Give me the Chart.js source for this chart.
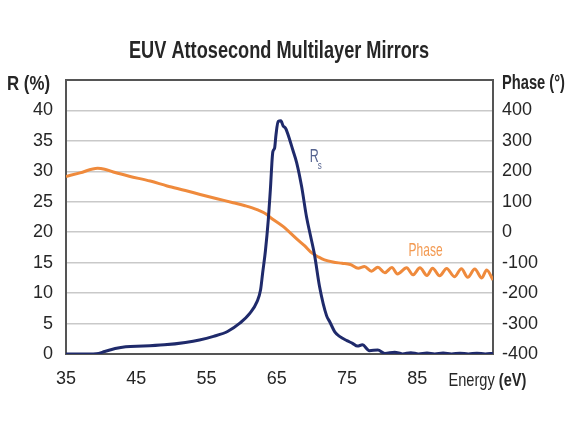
<!DOCTYPE html>
<html lang="en">
<head>
  <meta charset="UTF-8">
  <title>EUV Attosecond Multilayer Mirrors</title>
  <script src="https://cdn.jsdelivr.net/npm/chart.js"></script>
  <style>
    html, body { margin: 0; padding: 0; background: #fff; }
    canvas { display: block; }
  </style>
</head>
<body>
  <canvas id="mirror-chart" width="570" height="443"></canvas>

  <script>
    // Reflectance Rs (%)
    const energyR = [35, 37, 39.3, 40.5, 42, 43.5, 46, 49, 52, 54, 56, 58, 59.8, 61.2, 62.2, 62.7, 63.0, 63.4, 63.8, 64.1, 64.45, 64.7, 64.9, 65.2, 65.6, 65.9, 66.3, 66.85, 67.3, 67.85, 68.55, 69.25, 69.8, 70.4, 71.1, 72.1, 72.55, 73.3, 74, 75, 75.8, 76.5, 77.2, 78.2, 79.4, 80.4, 81.8, 82.9, 84.1, 85.2, 86.4, 87.5, 88.7, 89.9, 91.1, 92.3, 93.5, 94.7, 95.8];
    const reflectance = [0, 0, 0.05, 0.4, 0.9, 1.2, 1.3, 1.5, 1.9, 2.3, 2.9, 3.7, 5.1, 6.7, 8.6, 10.5, 13.3, 17, 22, 27, 33.2, 33.8, 36, 38.2, 38.3, 37.5, 37.0, 35.2, 33.5, 31.4, 27.5, 22.5, 19.5, 16.2, 11.1, 6.3, 5.3, 3.6, 2.85, 2.2, 1.75, 1.3, 1.5, 0.55, 0.65, 0.1, 0.3, 0.02, 0.2, 0.02, 0.15, 0.02, 0.15, 0.02, 0.12, 0.02, 0.12, 0.02, 0.1];

    // Phase (degrees)
    const energyPhase = [35, 37, 39.5, 40.5, 42, 44, 47, 49.4, 52, 54.1, 56.5, 58.8, 60.5, 62.2, 63.6, 64, 65.9, 67.85, 69, 70, 71, 71.8, 73, 74.3, 75.5, 76.6, 77.5, 78.5, 79.4, 80.4, 81.4, 82.2, 83.5, 84.4, 85.4, 86.4, 87.2, 88.2, 89.2, 90.3, 91.3, 92.2, 93.2, 94.2, 94.9, 95.8];
    const phase = [183, 195, 210, 207, 196, 184, 168, 152, 137, 124, 110, 97, 87, 74, 58, 50, 19, -22, -45, -68, -82, -91, -98, -102, -106, -118, -113, -128, -115, -133, -116, -137, -117, -140, -117, -142, -118, -143, -119, -146, -120, -148, -121, -150, -124, -157];

    const energyTicks = [35, 45, 55, 65, 75, 85];
    const rTicks = [0, 5, 10, 15, 20, 25, 30, 35, 40];
    const phaseTicks = [-400, -300, -200, -100, 0, 100, 200, 300, 400];

    const FONT = "'Liberation Sans', Arial, sans-serif";
    const NAVY = '#1f2a6b';
    const ORANGE = '#ef8a3c';
    const TEXT = '#262626';

    // draws text squeezed to a given width (the original uses a condensed face)
    function squeezed(ctx, parts, x, y, width, align) {
      let total = 0;
      parts.forEach(p => { ctx.font = p.font; p.w = ctx.measureText(p.text).width; total += p.w; });
      const k = Math.min(1, width / total);
      let left = align === 'center' ? x - width / 2 : x;
      if (k === 1 && align === 'center') left = x - total / 2;
      ctx.save();
      ctx.translate(left, y);
      ctx.scale(k, 1);
      ctx.textAlign = 'left';
      let cx = 0;
      parts.forEach(p => { ctx.font = p.font; ctx.fillText(p.text, cx, 0); cx += p.w; });
      ctx.restore();
    }

    // frame, titles, axis captions and series labels
    const labelsPlugin = {
      id: 'labels',
      beforeDatasetsDraw(chart) {
        const { ctx, chartArea: a } = chart;
        ctx.save();
        ctx.strokeStyle = '#555';
        ctx.lineWidth = 2;
        ctx.strokeRect(a.left, a.top, a.right - a.left, a.bottom - a.top);
        ctx.restore();
      },
      afterDraw(chart) {
        const { ctx, scales } = chart;
        ctx.save();
        ctx.fillStyle = TEXT;
        ctx.textBaseline = 'alphabetic';

        squeezed(ctx, [{ text: 'EUV Attosecond Multilayer Mirrors', font: 'bold 23px ' + FONT }], 279, 58, 300, 'center');
        squeezed(ctx, [{ text: 'R (%)', font: 'bold 20px ' + FONT }], 7, 90, 43, 'left');
        squeezed(ctx, [{ text: 'Phase (°)', font: 'bold 20px ' + FONT }], 502, 89, 63, 'left');

        // Energy (eV) in place of the last x tick
        squeezed(ctx, [
          { text: 'Energy ', font: '19px ' + FONT },
          { text: '(eV)', font: 'bold 19px ' + FONT }
        ], scales.x.getPixelForValue(95), 386, 78, 'center');

        // series labels
        ctx.fillStyle = '#f39a52';
        squeezed(ctx, [{ text: 'Phase', font: '19px ' + FONT }], scales.x.getPixelForValue(86.2), scales.y2.getPixelForValue(-78), 34, 'center');
        ctx.fillStyle = '#55638f';
        const rx = scales.x.getPixelForValue(69.7);
        const ry = scales.y.getPixelForValue(31.6);
        squeezed(ctx, [{ text: 'R', font: '19px ' + FONT }], rx, ry, 9, 'left');
        squeezed(ctx, [{ text: 's', font: '10px ' + FONT }], rx + 8, ry + 7, 4, 'left');
        ctx.restore();
      }
    };

    const tickFont = { family: FONT, size: 18 };

    const ctx = document.getElementById('mirror-chart').getContext('2d');
    const mirrorChart = new Chart(ctx, {
      type: 'line',
      data: {
        datasets: [{
          label: 'Rs',
          data: energyR.map((e, i) => ({ x: e, y: reflectance[i] })),
          yAxisID: 'y',
          borderColor: NAVY,
          borderWidth: 3,
          cubicInterpolationMode: 'monotone',
          pointRadius: 0,
          fill: false
        }, {
          label: 'Phase',
          data: energyPhase.map((e, i) => ({ x: e, y: phase[i] })),
          yAxisID: 'y2',
          borderColor: ORANGE,
          borderWidth: 3,
          cubicInterpolationMode: 'monotone',
          pointRadius: 0,
          fill: false
        }]
      },
      options: {
        responsive: false,
        animation: false,
        layout: { padding: { top: 80, left: 0, right: 0, bottom: 0 } },
        plugins: {
          legend: { display: false },
          tooltip: { enabled: false }
        },
        scales: {
          x: {
            type: 'linear',
            min: 35,
            max: 95.8,
            afterBuildTicks: s => { s.ticks = energyTicks.map(v => ({ value: v })); },
            afterFit: s => { s.height = 89; },
            grid: { display: false, drawTicks: false },
            border: { display: false },
            ticks: { padding: 14, maxRotation: 0, color: TEXT, font: tickFont }
          },
          y: {
            position: 'left',
            min: 0,
            max: 45,
            afterBuildTicks: s => { s.ticks = rTicks.map(v => ({ value: v })); },
            afterFit: s => { s.width = 66; },
            grid: { color: '#c9c9c9', lineWidth: 1.5, drawTicks: false },
            border: { display: false },
            ticks: { padding: 13, color: TEXT, font: tickFont }
          },
          y2: {
            position: 'right',
            min: -400,
            max: 500,
            afterBuildTicks: s => { s.ticks = phaseTicks.map(v => ({ value: v })); },
            afterFit: s => { s.width = 77; },
            grid: { display: false, drawTicks: false },
            border: { display: false },
            ticks: { padding: 9, color: TEXT, font: tickFont }
          }
        }
      },
      plugins: [labelsPlugin]
    });
  </script>
</body>
</html>
